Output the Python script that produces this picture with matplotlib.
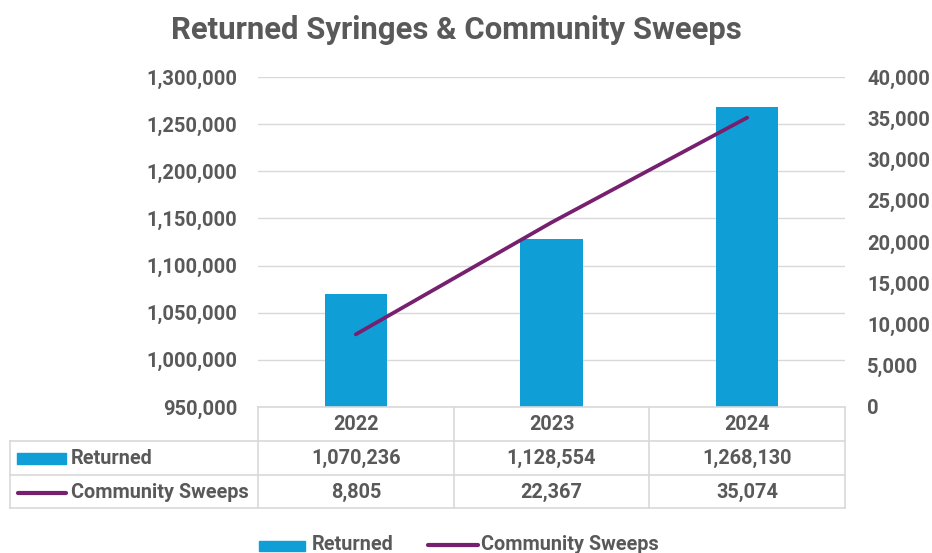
import matplotlib
matplotlib.use("Agg")
import matplotlib.pyplot as plt
from matplotlib.lines import Line2D
from matplotlib.patches import Rectangle
from matplotlib.ticker import FuncFormatter, MultipleLocator
from matplotlib.transforms import blended_transform_factory

plt.rcParams['font.family'] = ['Roboto', 'DejaVu Sans']

years = ["2022", "2023", "2024"]
returned = [1070236, 1128554, 1268130]
sweeps = [8805, 22367, 35074]
series_names = ["Returned", "Community Sweeps"]

BAR_C = "#0F9ED5"
LINE_C = "#76206F"
TXT_C = "#595959"
GRID_C = "#D9D9D9"

W, H = 932, 553
fig = plt.figure(figsize=(W / 100, H / 100), dpi=100)

def fx(px):
    return px / W

def fy(py):
    return 1 - py / H

left, right, top, bottom = 258, 845, 77, 407
ax = fig.add_axes([fx(left), fy(bottom), fx(right - left), (bottom - top) / H])
x = list(range(len(years)))
ax.bar(x, returned, width=0.32, color=BAR_C, zorder=2)
ax.set_xlim(-0.5, 2.5)
ax.set_ylim(950000, 1300000)
ax.yaxis.set_major_locator(MultipleLocator(50000))
ax.yaxis.set_major_formatter(FuncFormatter(lambda v, p: f"{int(v):,}"))
ax.grid(axis='y', color=GRID_C, linewidth=1, zorder=0)
ax.set_xticks([])
for s in ax.spines.values():
    s.set_visible(False)
ax.tick_params(axis='y', length=0, pad=15, labelcolor=TXT_C, labelsize=14.5)
for t in ax.get_yticklabels():
    t.set_fontweight('bold')

ax2 = ax.twinx()
ax2.plot(x, sweeps, color=LINE_C, linewidth=2.7, solid_capstyle='round', zorder=3)
ax2.set_ylim(0, 40000)
ax2.yaxis.set_major_locator(MultipleLocator(5000))
ax2.yaxis.set_major_formatter(FuncFormatter(lambda v, p: f"{int(v):,}"))
for s in ax2.spines.values():
    s.set_visible(False)
ax2.tick_params(axis='y', length=0, pad=16, labelcolor=TXT_C, labelsize=14.5)
for t in ax2.get_yticklabels():
    t.set_fontweight('bold')

fig.text(fx(456), fy(30), "Returned Syringes & Community Sweeps", ha='center', va='center',
         fontsize=22.4, fontweight='bold', color=TXT_C)

# data table
tr = blended_transform_factory(ax.transData, fig.transFigure)
ftr = fig.transFigure
lw = 1.2
fig.add_artist(Line2D([fx(left), fx(right)], [fy(407), fy(407)], color=GRID_C, lw=lw, transform=ftr))
for yy in [441, 475, 508]:
    fig.add_artist(Line2D([fx(10), fx(right)], [fy(yy), fy(yy)], color=GRID_C, lw=lw, transform=ftr))
fig.add_artist(Line2D([fx(10), fx(10)], [fy(441), fy(508)], color=GRID_C, lw=lw, transform=ftr))
for b in [-0.5, 0.5, 1.5, 2.5]:
    fig.add_artist(Line2D([b, b], [fy(407), fy(508)], color=GRID_C, lw=lw, transform=tr))

fs_tab = 14.3
for i, yr in enumerate(years):
    fig.text(i, fy(424), yr, transform=tr, ha='center', va='center', fontsize=fs_tab,
             fontweight='bold', color=TXT_C)
    fig.text(i, fy(458), f"{returned[i]:,}", transform=tr, ha='center', va='center',
             fontsize=fs_tab, fontweight='bold', color=TXT_C)
    fig.text(i, fy(492), f"{sweeps[i]:,}", transform=tr, ha='center', va='center',
             fontsize=fs_tab, fontweight='bold', color=TXT_C)

# row labels
fig.add_artist(Rectangle((fx(17), fy(464)), fx(49), 11 / H, color=BAR_C, transform=ftr))
fig.text(fx(71), fy(458), series_names[0], ha='left', va='center', fontsize=fs_tab,
         fontweight='bold', color=TXT_C)
fig.add_artist(Line2D([fx(18), fx(66)], [fy(493), fy(493)], color=LINE_C, lw=3,
                      solid_capstyle='round', transform=ftr))
fig.text(fx(71), fy(492), series_names[1], ha='left', va='center', fontsize=fs_tab,
         fontweight='bold', color=TXT_C)

# legend
fig.add_artist(Rectangle((fx(259), fy(551)), fx(46), 10 / H, color=BAR_C, transform=ftr))
fig.text(fx(312), fy(545), series_names[0], ha='left', va='center', fontsize=fs_tab,
         fontweight='bold', color=TXT_C)
fig.add_artist(Line2D([fx(428), fx(478)], [fy(545), fy(545)], color=LINE_C, lw=3,
                      solid_capstyle='round', transform=ftr))
fig.text(fx(481), fy(545), series_names[1], ha='left', va='center', fontsize=fs_tab,
         fontweight='bold', color=TXT_C)

fig.savefig("out.png", dpi=100)
